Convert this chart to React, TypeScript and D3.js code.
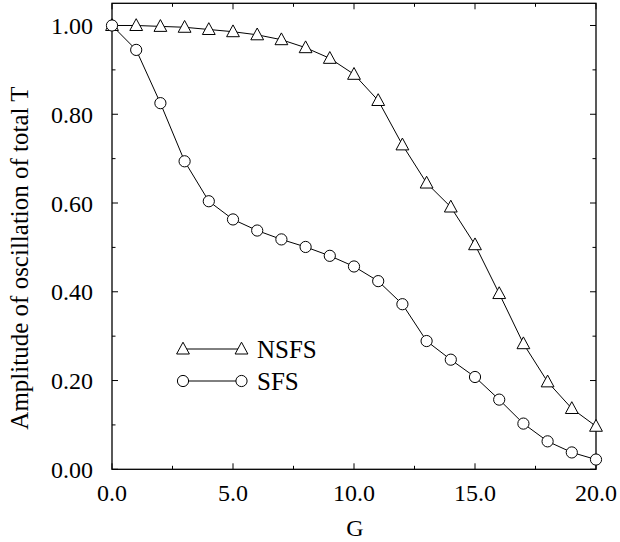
import React from "react";
import * as d3 from "d3";

const G: number[] = [0, 1, 2, 3, 4, 5, 6, 7, 8, 9, 10, 11, 12, 13, 14, 15, 16, 17, 18, 19, 20];
const nsfs: number[] = [1.0, 1.0, 0.998, 0.996, 0.991, 0.986, 0.979, 0.968, 0.95, 0.926, 0.89, 0.831, 0.731, 0.645, 0.591, 0.506, 0.396, 0.283, 0.197, 0.137, 0.097];
const sfs: number[] = [1.0, 0.945, 0.825, 0.694, 0.604, 0.563, 0.538, 0.518, 0.501, 0.481, 0.457, 0.424, 0.372, 0.289, 0.247, 0.208, 0.157, 0.103, 0.063, 0.038, 0.022];
const xTicks: number[] = [0, 5, 10, 15, 20];
const xMinor: number[] = [2.5, 7.5, 12.5, 17.5];
const yTicks: number[] = [0, 0.2, 0.4, 0.6, 0.8, 1.0];
const yMinor: number[] = [0.1, 0.3, 0.5, 0.7, 0.9];

const W = 620, H = 542;
const L = 112, R = 596, T = 3.3, B = 469.3;

const font = "'Liberation Serif', 'Times New Roman', Times, serif";

function tri(cx: number, cy: number) {
  return `M${cx},${cy - 6.8}L${cx + 6.4},${cy + 5}L${cx - 6.4},${cy + 5}Z`;
}

export default function App() {
  const x = d3.scaleLinear().domain([0, 20]).range([L, R]);
  const y = d3.scaleLinear().domain([0, 1.05]).range([B, T]);
  const line = d3.line<number>().x((_, i) => x(G[i])).y((d) => y(d));
  const fmtX = d3.format(".1f");
  const fmtY = d3.format(".2f");
  const maj = 6, mnr = 3.5;
  const ts = { fontFamily: font };
  return (
    <svg width={W} height={H} style={{ position: "absolute", left: 0, top: 0, background: "#fff" }}>
      <rect x={L} y={T} width={R - L} height={B - T} fill="none" stroke="#000" strokeWidth={1.3} />
      {xTicks.map((t) => (
        <g key={"xt" + t}>
          <line x1={x(t)} x2={x(t)} y1={B} y2={B - maj} stroke="#000" strokeWidth={1} />
          <line x1={x(t)} x2={x(t)} y1={T} y2={T + maj} stroke="#000" strokeWidth={1} />
          <text x={x(t)} y={501} fontSize={24} textAnchor="middle" style={ts}>{fmtX(t)}</text>
        </g>
      ))}
      {xMinor.map((t) => (
        <g key={"xm" + t}>
          <line x1={x(t)} x2={x(t)} y1={B} y2={B - mnr} stroke="#000" strokeWidth={1} />
          <line x1={x(t)} x2={x(t)} y1={T} y2={T + mnr} stroke="#000" strokeWidth={1} />
        </g>
      ))}
      {yTicks.map((t) => (
        <g key={"yt" + t}>
          <line x1={L} x2={L + maj} y1={y(t)} y2={y(t)} stroke="#000" strokeWidth={1} />
          <line x1={R} x2={R - maj} y1={y(t)} y2={y(t)} stroke="#000" strokeWidth={1} />
          <text x={93} y={y(t) + 8.5} fontSize={24} textAnchor="end" style={ts}>{fmtY(t)}</text>
        </g>
      ))}
      {yMinor.map((t) => (
        <g key={"ym" + t}>
          <line x1={L} x2={L + mnr} y1={y(t)} y2={y(t)} stroke="#000" strokeWidth={1} />
          <line x1={R} x2={R - mnr} y1={y(t)} y2={y(t)} stroke="#000" strokeWidth={1} />
        </g>
      ))}
      <text x={355} y={536} fontSize={24} textAnchor="middle" style={ts}>G</text>
      <text transform="translate(28,258) rotate(-90)" fontSize={25} textAnchor="middle" style={ts}>Amplitude of oscillation of total T</text>

      <path d={line(nsfs) || ""} fill="none" stroke="#000" strokeWidth={1} />
      <path d={line(sfs) || ""} fill="none" stroke="#000" strokeWidth={1} />
      {nsfs.map((v, i) => (
        <path key={"n" + i} d={tri(x(G[i]), y(v))} fill="#fff" stroke="#000" strokeWidth={1} />
      ))}
      {sfs.map((v, i) => (
        <circle key={"s" + i} cx={x(G[i])} cy={y(v)} r={5.6} fill="#fff" stroke="#000" strokeWidth={1} />
      ))}

      <line x1={183} x2={241.5} y1={349} y2={349} stroke="#000" strokeWidth={1} />
      <path d={tri(183, 349)} fill="#fff" stroke="#000" strokeWidth={1} />
      <path d={tri(241.5, 349)} fill="#fff" stroke="#000" strokeWidth={1} />
      <text x={257} y={358} fontSize={25} style={ts}>NSFS</text>
      <line x1={183} x2={241.5} y1={381} y2={381} stroke="#000" strokeWidth={1} />
      <circle cx={183} cy={381} r={5.6} fill="#fff" stroke="#000" strokeWidth={1} />
      <circle cx={241.5} cy={381} r={5.6} fill="#fff" stroke="#000" strokeWidth={1} />
      <text x={257} y={390} fontSize={25} style={ts}>SFS</text>
    </svg>
  );
}
